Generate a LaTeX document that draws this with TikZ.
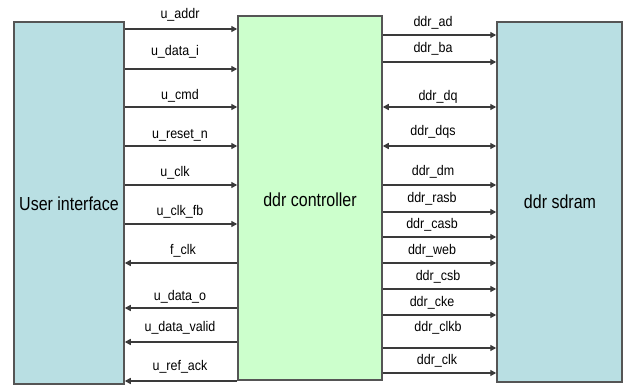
\documentclass[tikz,border=0pt]{standalone}
\usepackage{fontspec}
\setmainfont{Liberation Sans}
\usetikzlibrary{arrows.meta}
\definecolor{boxblue}{HTML}{B9DFE3}
\definecolor{boxgreen}{HTML}{CCFFCC}
\definecolor{edge}{HTML}{555555}
\definecolor{wire}{HTML}{3A3A3A}
\tikzset{
  block/.style={draw=edge, line width=1.5pt, inner sep=0pt},
  bigtext/.style={font=\fontsize{16}{16}\selectfont, inner sep=0pt, yscale=1.18, transform shape},
  sig/.style={draw=wire, line width=1.4pt, -{Triangle[length=6pt,width=6pt]}},
  bisig/.style={draw=wire, line width=1.4pt, {Triangle[length=6pt,width=6pt]}-{Triangle[length=6pt,width=6pt]}},
  lbl/.style={font=\fontsize{12.5}{12.5}\selectfont, inner sep=0pt, yscale=1.12, transform shape}
}
\begin{document}
\begin{tikzpicture}[x=1pt,y=-1pt]
\useasboundingbox (0,0) rectangle (624,385);
\node[block, fill=boxblue, minimum width=110pt, minimum height=362pt] (ui) at (69,203) {};
\node[block, fill=boxgreen, minimum width=144pt, minimum height=364pt] (ctl) at (310,198) {};
\node[block, fill=boxblue, minimum width=125pt, minimum height=360pt] (sd) at (559.5,202) {};
\node[bigtext] (uitxt) at (69,204) {User interface};
\node[bigtext] (ctltxt) at (310,200) {ddr controller};
\node[bigtext] (sdtxt) at (560,202) {ddr sdram};
% user side, toward controller
\foreach \y/\ly/\lx/\t in {29/15/180/u\_addr, 69/52/175/u\_data\_i, 107/96/180/u\_cmd, 146/135/180/u\_reset\_n, 185/173/175/u\_clk, 224/212/180/u\_clk\_fb}{
  \draw[sig] (ui.east |- 0,\y) -- (ctl.west |- 0,\y);
  \node[lbl] at (\lx,\ly) {\t};
}
% controller toward user
\foreach \y/\ly/\lx/\t in {263/251/183/f\_clk, 308/297/180/u\_data\_o, 342/328/180/u\_data\_valid, 381/367/180/u\_ref\_ack}{
  \draw[sig] (ctl.west |- 0,\y) -- (ui.east |- 0,\y);
  \node[lbl] at (\lx,\ly) {\t};
}
% controller to sdram
\foreach \y/\ly/\lx/\t in {35/23/433/ddr\_ad, 62/49/433/ddr\_ba, 185/172/433/ddr\_dm, 212/199/432/ddr\_rasb, 237/225/432/ddr\_casb, 263/251/432/ddr\_web, 289/277/438/ddr\_csb, 315/303/432/ddr\_cke, 348/328/438/ddr\_clkb, 373/361/437/ddr\_clk}{
  \draw[sig] (ctl.east |- 0,\y) -- (sd.west |- 0,\y);
  \node[lbl] at (\lx,\ly) {\t};
}
% bidirectional
\foreach \y/\ly/\lx/\t in {107/97/438/ddr\_dq, 146/132/433/ddr\_dqs}{
  \draw[bisig] (ctl.east |- 0,\y) -- (sd.west |- 0,\y);
  \node[lbl] at (\lx,\ly) {\t};
}
\end{tikzpicture}
\end{document}
